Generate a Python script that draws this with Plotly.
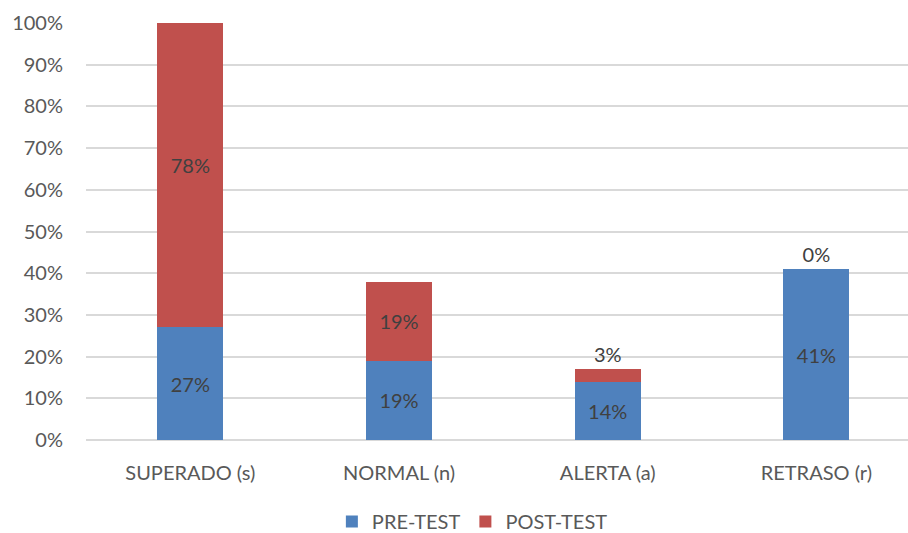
import plotly.graph_objects as go

categories = ["SUPERADO (s)", "NORMAL (n)", "ALERTA (a)", "RETRASO (r)"]
pre_test = [27, 19, 14, 41]
post_test = [78, 19, 3, 0]
y_ticks = [0, 10, 20, 30, 40, 50, 60, 70, 80, 90, 100]

FONT = "Lato"
BLUE = "#4f81bd"
RED = "#c0504d"

fig = go.Figure()
fig.add_trace(go.Bar(
    name="PRE-TEST", x=categories, y=[v / 100 for v in pre_test],
    text=[f"{v}%" for v in pre_test], textposition="inside",
    insidetextanchor="middle",
    textfont=dict(family=FONT, size=20, color="#404040"),
    marker=dict(color=BLUE, line=dict(width=0)), width=0.316,
    hoverinfo="skip",
))
fig.add_trace(go.Bar(
    name="POST-TEST", x=categories, y=[v / 100 for v in post_test],
    text=[f"{v}%" for v in post_test],
    textposition=["inside", "inside", "outside", "outside"],
    insidetextanchor="middle",
    textfont=dict(family=FONT, size=20, color="#404040"),
    marker=dict(color=RED, line=dict(width=0)), width=0.316,
    hoverinfo="skip",
))

fig.update_layout(
    barmode="stack",
    width=908, height=533,
    margin=dict(l=86, r=0, t=23, b=93),
    paper_bgcolor="white", plot_bgcolor="white",
    font=dict(family=FONT, size=20, color="#595959"),
    showlegend=True,
    legend=dict(orientation="h", xref="container", yref="container",
                x=0.3655, xanchor="left", y=0.058, yanchor="top",
                font=dict(family=FONT, size=20, color="#595959"),
                itemwidth=30, traceorder="normal"),
)
fig.update_xaxes(
    range=[-0.5, 3.439], showgrid=False, showline=False, zeroline=False,
    ticks="", ticklabelstandoff=19, tickfont=dict(family=FONT, size=20, color="#595959"),
    fixedrange=True,
)
fig.update_yaxes(
    range=[0, 1], tickvals=[v / 100 for v in y_ticks],
    ticktext=[f"{v}%" for v in y_ticks],
    showgrid=True, gridcolor="#d9d9d9", gridwidth=1.5,
    zeroline=True, zerolinecolor="#d9d9d9", zerolinewidth=1.5,
    showline=False, ticks="", ticklabelstandoff=22,
    tickfont=dict(family=FONT, size=20, color="#595959"),
    fixedrange=True,
)

fig.write_html("out.html")
